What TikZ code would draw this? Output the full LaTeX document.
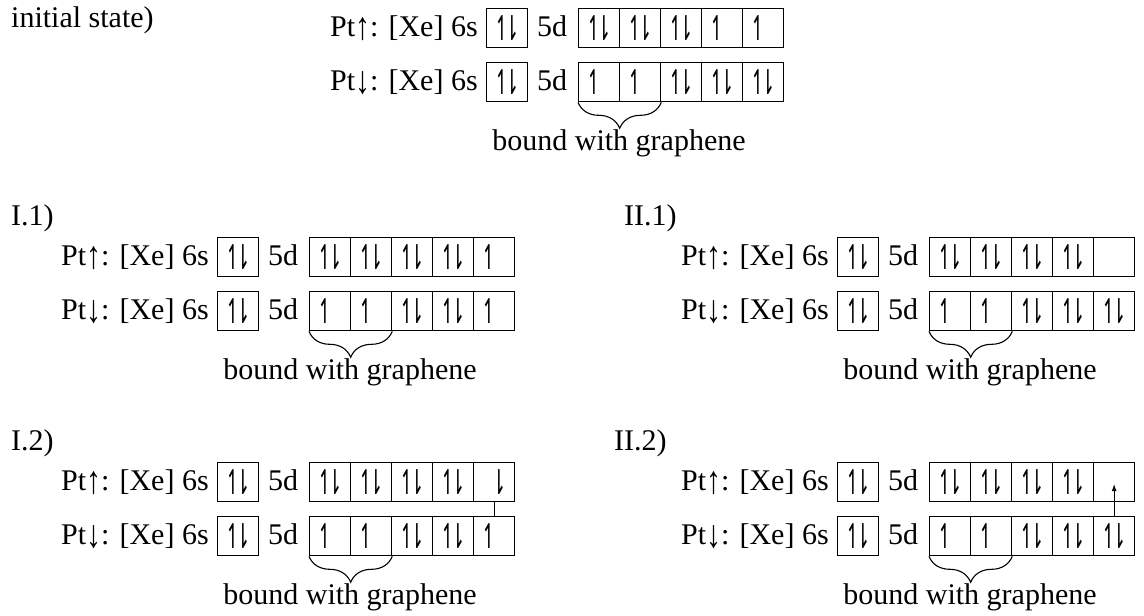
\documentclass[tikz,border=0pt]{standalone}
\usepackage{fontspec}
\setmainfont{Liberation Serif}
\newfontfamily\harp[FakeStretch=0.55]{DejaVu Sans}
\usetikzlibrary{decorations.pathreplacing,arrows.meta}
\newcommand\hsz{\harp\fontsize{34}{34}\selectfont}
\newcommand\hpair{{\hsz ↿\kern-6pt⇂}}
\newcommand\hup{{\hsz ↿\kern-6pt\phantom{⇂}}}
\newcommand\hdn{{\hsz \phantom{↿}\kern-6pt⇂}}
\newcommand\hnone{}
\newcommand\uarr{\raisebox{-0.1em}{\scalebox{1}[1.3]{↑}}}
\newcommand\darr{\raisebox{-0.1em}{\scalebox{1}[1.3]{↓}}}
\tikzset{
  cell/.style={draw, line width=1.3pt, inner sep=0pt, minimum width=41pt, minimum height=39pt, anchor=north west},
  rowtext/.style={inner sep=0pt, anchor=base west},
  gbrace/.style={decorate, decoration={brace, mirror, amplitude=26pt}, line width=1.1pt},
  thinlink/.style={line width=0.9pt},
}
% #1 name, #2 X, #3 Y, #4 top cells, #5 bottom cells
\newcommand\orbblock[5]{%
  \node[rowtext] (#1-ta) at ({#2},{#3+28.5}) {Pt\uarr: [Xe] 6s};
  \node[cell] (#1-s1) at ({#2+156},{#3}) {\hpair};
  \node[rowtext, anchor=base] (#1-tb) at ({#2+222},{#3+28.5}) {5d};
  \foreach \c [count=\i] in {#4} {
    \node[cell] (#1-u\i) at ({#2+248+41*(\i-1)},{#3}) {\c};
  }
  \node[rowtext] (#1-da) at ({#2},{#3+82.5}) {Pt\darr: [Xe] 6s};
  \node[cell] (#1-s2) at ({#2+156},{#3+54}) {\hpair};
  \node[rowtext, anchor=base] (#1-db) at ({#2+222},{#3+82.5}) {5d};
  \foreach \c [count=\i] in {#5} {
    \node[cell] (#1-d\i) at ({#2+248+41*(\i-1)},{#3+54}) {\c};
  }
  \draw[gbrace] (#1-d1.south west) -- (#1-d2.south east);
  \node[rowtext, anchor=base] (#1-bg) at ({#2+289},{#3+142}) {bound with graphene};
}
\begin{document}
\begin{tikzpicture}[x=1pt,y=-1pt,font=\fontsize{30}{36}\selectfont]
\useasboundingbox (0,0) rectangle (1144,616);

\node[rowtext] (init) at (11,27) {initial state)};
\orbblock{T}{330}{8}{\hpair,\hpair,\hpair,\hup,\hup}{\hup,\hup,\hpair,\hpair,\hpair}

\node[rowtext] (lab11) at (11,225) {I.1)};
\orbblock{A}{61}{237}{\hpair,\hpair,\hpair,\hpair,\hup}{\hup,\hup,\hpair,\hpair,\hup}

\node[rowtext] (lab21) at (624,225) {II.1)};
\orbblock{B}{681}{237}{\hpair,\hpair,\hpair,\hpair,\hnone}{\hup,\hup,\hpair,\hpair,\hpair}

\node[rowtext] (lab12) at (11,450) {I.2)};
\orbblock{C}{61}{462}{\hpair,\hpair,\hpair,\hpair,\hdn}{\hup,\hup,\hpair,\hpair,\hup}
\draw[thinlink] (C-u5.south) -- (C-d5.north);

\node[rowtext] (lab22) at (614,450) {II.2)};
\orbblock{D}{681}{462}{\hpair,\hpair,\hpair,\hpair,\hnone}{\hup,\hup,\hpair,\hpair,\hpair}
\draw[thinlink, -{Latex[length=7pt,width=5pt]}] (D-d5.north) -- ([yshift=-2pt]D-u5.center);
\end{tikzpicture}
\end{document}
